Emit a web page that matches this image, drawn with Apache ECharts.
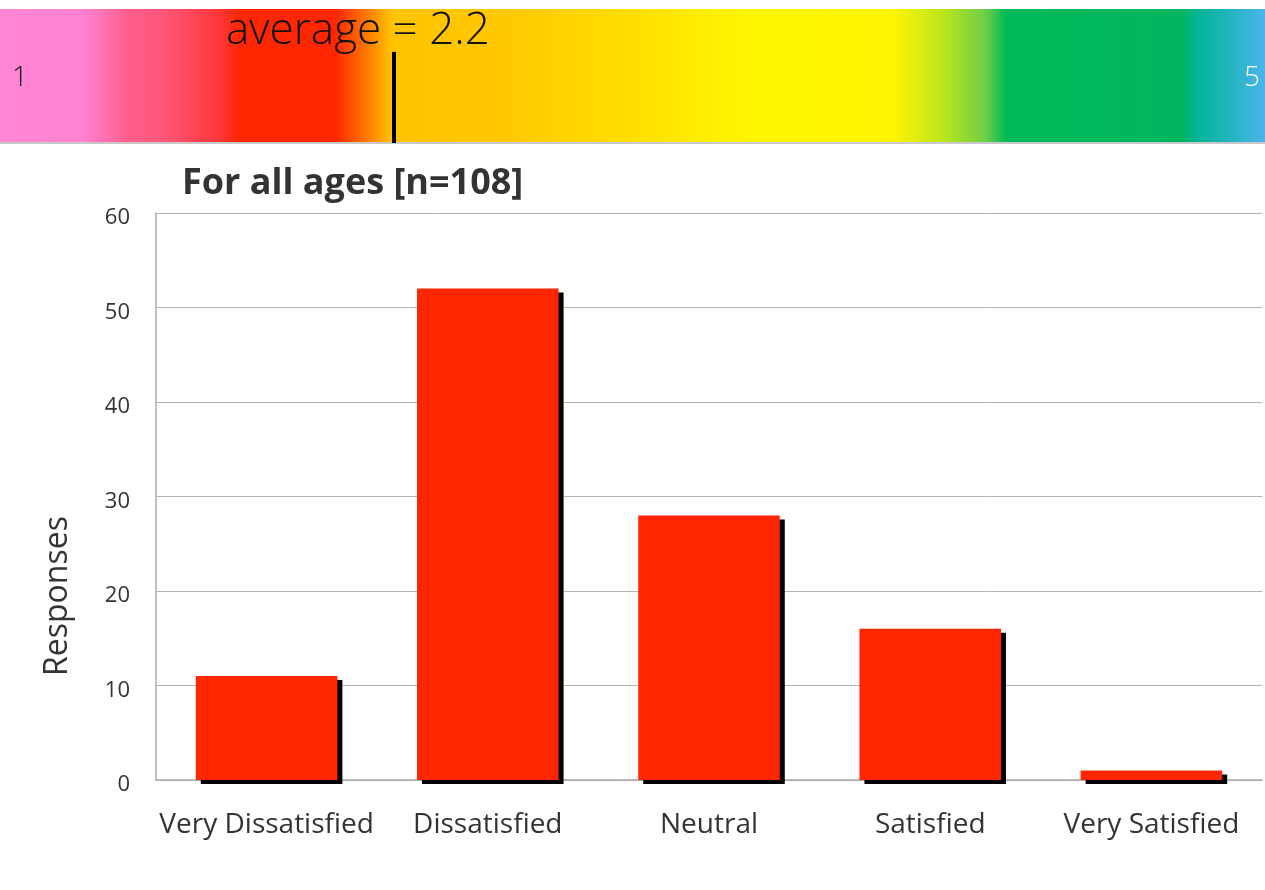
<!DOCTYPE html>
<html>
<head>
<meta charset="utf-8">
<script src="https://cdn.jsdelivr.net/npm/echarts@6/dist/echarts.min.js"></script>
<style>html,body{margin:0;padding:0;background:#fff;}#c{width:1265px;height:890px;}</style>
</head>
<body>
<div id="c"></div>
<script>
const categories = ['Very Dissatisfied', 'Dissatisfied', 'Neutral', 'Satisfied', 'Very Satisfied'];
const responses = [11, 52, 28, 16, 1];
const yTicks = [0, 10, 20, 30, 40, 50, 60];
const scaleMin = 1;
const scaleMax = 5;
const average = 2.2;
const titleText = 'For all ages [n=108]';
const yName = 'Responses';

const chart = echarts.init(document.getElementById('c'), null, {renderer: 'canvas'});

const gradStops = [
  {offset: 0.00, color: '#ff85d6'},
  {offset: 0.065, color: '#ff82d2'},
  {offset: 0.10, color: '#ff5f8e'},
  {offset: 0.13, color: '#ff5577'},
  {offset: 0.175, color: '#ff3636'},
  {offset: 0.19, color: '#ff2600'},
  {offset: 0.265, color: '#ff2600'},
  {offset: 0.29, color: '#ff7a00'},
  {offset: 0.31, color: '#ffc400'},
  {offset: 0.40, color: '#ffc800'},
  {offset: 0.50, color: '#ffdf00'},
  {offset: 0.60, color: '#fff700'},
  {offset: 0.705, color: '#fff500'},
  {offset: 0.745, color: '#bce61c'},
  {offset: 0.78, color: '#6ccc48'},
  {offset: 0.795, color: '#00ba58'},
  {offset: 0.935, color: '#00b560'},
  {offset: 0.945, color: '#00b494'},
  {offset: 1.00, color: '#4ab4ec'}
];

chart.setOption({
  animation: false,
  backgroundColor: '#fff',
  textStyle: {fontFamily: 'Open Sans'},
  graphic: [
    {
      type: 'rect', z: 0, silent: true,
      shape: {x: 0, y: 9, width: 1265, height: 134},
      style: {fill: new echarts.graphic.LinearGradient(0, 0, 1, 0, gradStops)}
    },
    {
      type: 'rect', z: 1, silent: true,
      shape: {x: 0, y: 142, width: 1265, height: 2},
      style: {fill: '#c8c8c8'}
    },
    {
      type: 'text', z: 5, left: 12, top: 64,
      style: {text: String(scaleMin), font: '300 28px "Open Sans"', fill: '#111'}
    },
    {
      type: 'text', z: 5, right: 5, top: 64,
      style: {text: String(scaleMax), font: '300 28px "Open Sans"', fill: '#fff'}
    },
    {
      type: 'text', z: 5, left: 226, top: 9,
      style: {text: 'average = ' + average, font: '300 44px "Open Sans"', fill: '#111'}
    },
    {
      type: 'text', z: 5, x: 58, y: 596, rotation: Math.PI / 2,
      style: {text: yName, font: '32px "Open Sans"', fill: '#333', textAlign: 'center', textVerticalAlign: 'middle'}
    }
  ],
  title: {
    text: titleText,
    left: 177, top: 161,
    textStyle: {fontFamily: 'Open Sans', fontSize: 36, fontWeight: 'bold', color: '#333'}
  },
  grid: [
    {left: 20, right: 0, top: 9, height: 134},
    {left: 156, right: 3, top: 213, bottom: 110}
  ],
  xAxis: [
    {gridIndex: 0, type: 'value', min: scaleMin, max: scaleMax, show: false},
    {
      gridIndex: 1, type: 'category', data: categories,
      axisLine: {lineStyle: {color: '#aaa', width: 1.5}},
      axisTick: {show: false},
      axisLabel: {interval: 0, color: '#333', fontSize: 28, margin: 31, fontFamily: 'Open Sans'}
    }
  ],
  yAxis: [
    {gridIndex: 0, type: 'value', min: 0, max: 1, show: false},
    {
      gridIndex: 1, type: 'value', min: yTicks[0], max: yTicks[yTicks.length - 1], interval: 10,
      axisLine: {show: true, lineStyle: {color: '#aaa', width: 1.5}},
      axisTick: {show: false},
      axisLabel: {color: '#333', fontSize: 22, margin: 26, verticalAlign: 'top', lineHeight: 10, fontFamily: 'Open Sans'},
      splitLine: {lineStyle: {color: '#b4b4b4', width: 1}}
    }
  ],
  series: [
    {
      type: 'scatter', xAxisIndex: 0, yAxisIndex: 0,
      data: [[average, 0]], symbolSize: 0, silent: true,
      markLine: {
        silent: true, symbol: ['none', 'none'],
        lineStyle: {color: '#000', width: 4, type: 'solid'},
        label: {show: false},
        data: [[{coord: [average, 0.68]}, {coord: [average, 0]}]]
      }
    },
    {
      type: 'bar', xAxisIndex: 1, yAxisIndex: 1,
      data: responses, barWidth: '64%',
      itemStyle: {
        color: '#ff2600',
        shadowColor: '#000', shadowBlur: 0, shadowOffsetX: 5, shadowOffsetY: 4
      }
    }
  ]
});
</script>
</body>
</html>
